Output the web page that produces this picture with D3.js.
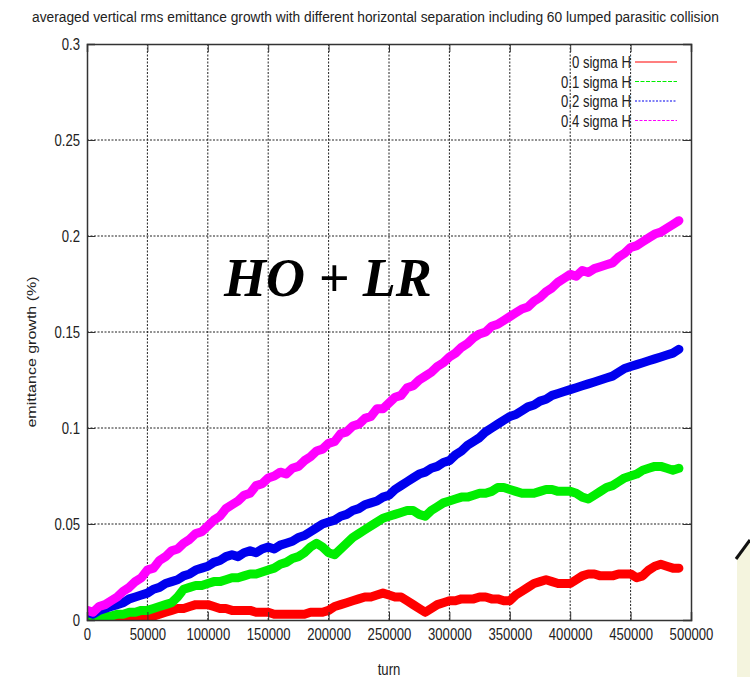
<!DOCTYPE html>
<html><head><meta charset="utf-8">
<script src="https://cdn.jsdelivr.net/npm/d3@7"></script>
<style>body{margin:0;background:#fff}</style>
</head><body><svg id="c" width="750" height="677"></svg>
<script>
// sample positions (turns) for every series
const turns = d3.range(0, 490001, 5000);
const xTicks = [0,50000,100000,150000,200000,250000,300000,350000,400000,450000,500000];
const yTicks = [0,0.05,0.1,0.15,0.2,0.25,0.3];
const seriesNames = ["0 sigma H","0.1 sigma H","0.2 sigma H","0.4 sigma H"];

const sigma0 = [0.001,0.001,0.001,0.001,0.001,0.001,0.001,0.001,0.002,0.002,0.002,0.002,0.003,0.004,0.005,0.006,0.006,0.007,0.008,0.008,
0.008,0.007,0.006,0.006,0.005,0.005,0.005,0.005,0.004,0.004,0.004,0.003,0.003,0.003,0.003,0.003,0.003,0.004,0.004,0.004,
0.005,0.007,0.008,0.009,0.010,0.011,0.012,0.012,0.013,0.014,0.013,0.012,0.012,0.010,0.008,0.006,0.004,0.006,0.008,0.009,
0.010,0.010,0.011,0.011,0.011,0.012,0.012,0.011,0.011,0.010,0.010,0.013,0.015,0.017,0.019,0.020,0.021,0.020,0.019,0.019,
0.019,0.021,0.023,0.024,0.024,0.023,0.023,0.023,0.024,0.024,0.024,0.022,0.023,0.026,0.028,0.029,0.028,0.027,0.027];

const sigma01 = [0.001,0.001,0.002,0.002,0.002,0.003,0.003,0.004,0.004,0.005,0.005,0.006,0.007,0.008,0.009,0.012,0.016,0.017,0.018,0.018,
0.019,0.020,0.020,0.021,0.022,0.022,0.023,0.024,0.024,0.025,0.026,0.027,0.029,0.030,0.032,0.033,0.035,0.038,0.040,0.038,
0.035,0.034,0.037,0.040,0.043,0.045,0.047,0.049,0.051,0.053,0.054,0.055,0.056,0.057,0.057,0.055,0.054,0.057,0.059,0.061,
0.062,0.063,0.064,0.064,0.065,0.066,0.066,0.067,0.069,0.069,0.068,0.067,0.066,0.066,0.066,0.067,0.068,0.068,0.067,0.067,
0.067,0.066,0.064,0.063,0.065,0.067,0.069,0.070,0.072,0.074,0.075,0.076,0.078,0.079,0.080,0.080,0.079,0.078,0.079];

const sigma02 = [0.004,0.003,0.005,0.006,0.007,0.008,0.009,0.011,0.012,0.013,0.014,0.016,0.017,0.019,0.020,0.021,0.023,0.024,0.026,0.027,
0.028,0.030,0.031,0.033,0.034,0.033,0.035,0.036,0.035,0.037,0.038,0.037,0.039,0.040,0.041,0.043,0.044,0.046,0.048,0.050,
0.051,0.052,0.054,0.055,0.057,0.058,0.060,0.061,0.062,0.064,0.065,0.068,0.070,0.072,0.074,0.076,0.077,0.079,0.080,0.082,
0.083,0.086,0.088,0.091,0.093,0.095,0.098,0.100,0.102,0.104,0.106,0.107,0.109,0.111,0.112,0.114,0.115,0.117,0.118,0.119,
0.120,0.121,0.122,0.123,0.124,0.125,0.126,0.127,0.129,0.131,0.132,0.133,0.134,0.135,0.136,0.137,0.138,0.139,0.141];

const sigma04 = [0.005,0.004,0.007,0.008,0.010,0.012,0.015,0.017,0.020,0.022,0.026,0.027,0.031,0.033,0.036,0.037,0.040,0.042,0.045,0.046,
0.049,0.052,0.054,0.058,0.060,0.062,0.065,0.066,0.070,0.071,0.074,0.075,0.077,0.076,0.079,0.080,0.083,0.085,0.088,0.089,
0.092,0.093,0.097,0.098,0.101,0.102,0.105,0.106,0.110,0.110,0.113,0.116,0.117,0.121,0.122,0.125,0.127,0.129,0.132,0.134,
0.137,0.139,0.142,0.144,0.147,0.149,0.150,0.153,0.154,0.156,0.158,0.160,0.162,0.163,0.166,0.168,0.171,0.173,0.176,0.178,
0.180,0.179,0.182,0.181,0.183,0.184,0.185,0.186,0.189,0.191,0.194,0.195,0.197,0.199,0.201,0.202,0.204,0.206,0.208];

const seriesValues = [sigma0, sigma01, sigma02, sigma04];
const colors = ["#ff0000","#00ee00","#0000ee","#ff00ff"];
const legendDash = [null,"4,1.5","2,1.5","3,1.5"];

const svg = d3.select("#c");
const L=87, R=691, T=44, B=620;
const x = d3.scaleLinear().domain([0,500000]).range([L,R]);
const y = d3.scaleLinear().domain([0,0.3]).range([B,T]);
const font = "Liberation Sans, Arial, sans-serif";
const FS = 16;

// background decoration (slide corner)
svg.append("path").attr("d","M737,558L750,540L750,677L737,677Z").attr("fill","#f4f4de");
svg.append("line").attr("x1",736).attr("y1",559).attr("x2",750).attr("y2",540).attr("stroke","#111").attr("stroke-width",3);

// grid
const g = svg.append("g");
g.selectAll(".gx").data(xTicks.slice(1,-1)).join("line")
 .attr("x1",d=>x(d)).attr("x2",d=>x(d)).attr("y1",T).attr("y2",B)
 .attr("stroke","#222").attr("stroke-width",1).attr("stroke-dasharray","2,1.5");
g.selectAll(".gy").data(yTicks.slice(1,-1)).join("line")
 .attr("y1",d=>y(d)).attr("y2",d=>y(d)).attr("x1",L).attr("x2",R)
 .attr("stroke","#222").attr("stroke-width",1).attr("stroke-dasharray","2,1.5");

// clip
svg.append("clipPath").attr("id","clip").append("rect").attr("x",L).attr("y",T).attr("width",R-L).attr("height",B-T);

const line = d3.line().x((d,i)=>x(turns[i])).y(d=>y(d));
const dg = svg.append("g").attr("clip-path","url(#clip)");
seriesValues.forEach((vals,k)=>{
  dg.append("path").datum(vals).attr("d",line).attr("fill","none")
    .attr("stroke",colors[k]).attr("stroke-width",9).attr("stroke-linejoin","round").attr("stroke-linecap","round");
});

// axes with inward ticks
const ax = svg.append("g");
const bx = ax.append("g").attr("transform",`translate(0,${B})`)
  .call(d3.axisBottom(x).tickValues(xTicks).tickSize(-8).tickPadding(0).tickFormat(d3.format("d")));
bx.selectAll("text").attr("dy",null).attr("y",20);
ax.append("g").attr("transform",`translate(0,${T})`)
  .call(d3.axisTop(x).tickValues(xTicks).tickSize(-8).tickFormat(""));
const ly = ax.append("g").attr("transform",`translate(${L},0)`)
  .call(d3.axisLeft(y).tickValues(yTicks).tickSize(-8).tickPadding(0).tickFormat(d=>d===0?"0":String(+d.toFixed(2))));
ly.selectAll("text").attr("x",-7).attr("dy","0.36em");
ax.append("g").attr("transform",`translate(${R},0)`)
  .call(d3.axisRight(y).tickValues(yTicks).tickSize(-8).tickFormat(""));
ax.selectAll(".domain").attr("stroke","#333").attr("stroke-width",1.5);
ax.selectAll(".tick line").attr("stroke","#333");
ax.selectAll("text").attr("font-family",font).attr("font-size",FS).attr("fill","#222");

// titles
svg.append("text").attr("id","title").attr("x",32).attr("y",22)
  .attr("font-family",font).attr("font-size",15).attr("fill","#222")
  .text("averaged vertical rms emittance growth with different horizontal separation including 60 lumped parasitic collision");
svg.append("text").attr("class","nar").attr("x",389).attr("y",675).attr("text-anchor","middle")
  .attr("font-family",font).attr("font-size",FS).attr("fill","#222").text("turn");
svg.append("text").attr("transform","translate(36,352) rotate(-90) scale(1,0.82)").attr("text-anchor","middle")
  .attr("font-family",font).attr("font-size",FS).attr("fill","#222").text("emittance growth (%)");

// legend
const lg = svg.append("g");
seriesNames.forEach((nm,k)=>{
  const yy = 62 + k*19.5;
  lg.append("text").attr("class","nar").attr("x",631).attr("y",yy+6).attr("text-anchor","end")
    .attr("font-family",font).attr("font-size",FS).attr("fill","#222").text(nm);
  lg.append("line").attr("x1",635).attr("x2",677).attr("y1",yy).attr("y2",yy)
    .attr("stroke",colors[k]).attr("stroke-width",1.2).attr("stroke-dasharray",legendDash[k]);
});

// condense horizontal labels (reference glyphs are narrow) by a horizontal scale about their anchor
function condense(node, f){
  const s = d3.select(node);
  const px = +s.attr("x") || 0, py = +s.attr("y") || 0;
  s.attr("x",0).attr("y",0).attr("transform",`translate(${px},${py}) scale(${f},1)`);
}
ax.selectAll("text").classed("nar",true);
svg.selectAll("text.nar").each(function(){ condense(this,0.82); });
const tnode = svg.select("#title").node();
const tw = tnode.getComputedTextLength();
condense(tnode, 688/tw);

// annotation
svg.append("text").attr("x",224).attr("y",296)
  .attr("font-family","Liberation Serif, Times New Roman, serif").attr("font-weight","bold").attr("font-style","italic")
  .attr("font-size",54).attr("fill","#000").text("HO + LR");
</script></body></html>
